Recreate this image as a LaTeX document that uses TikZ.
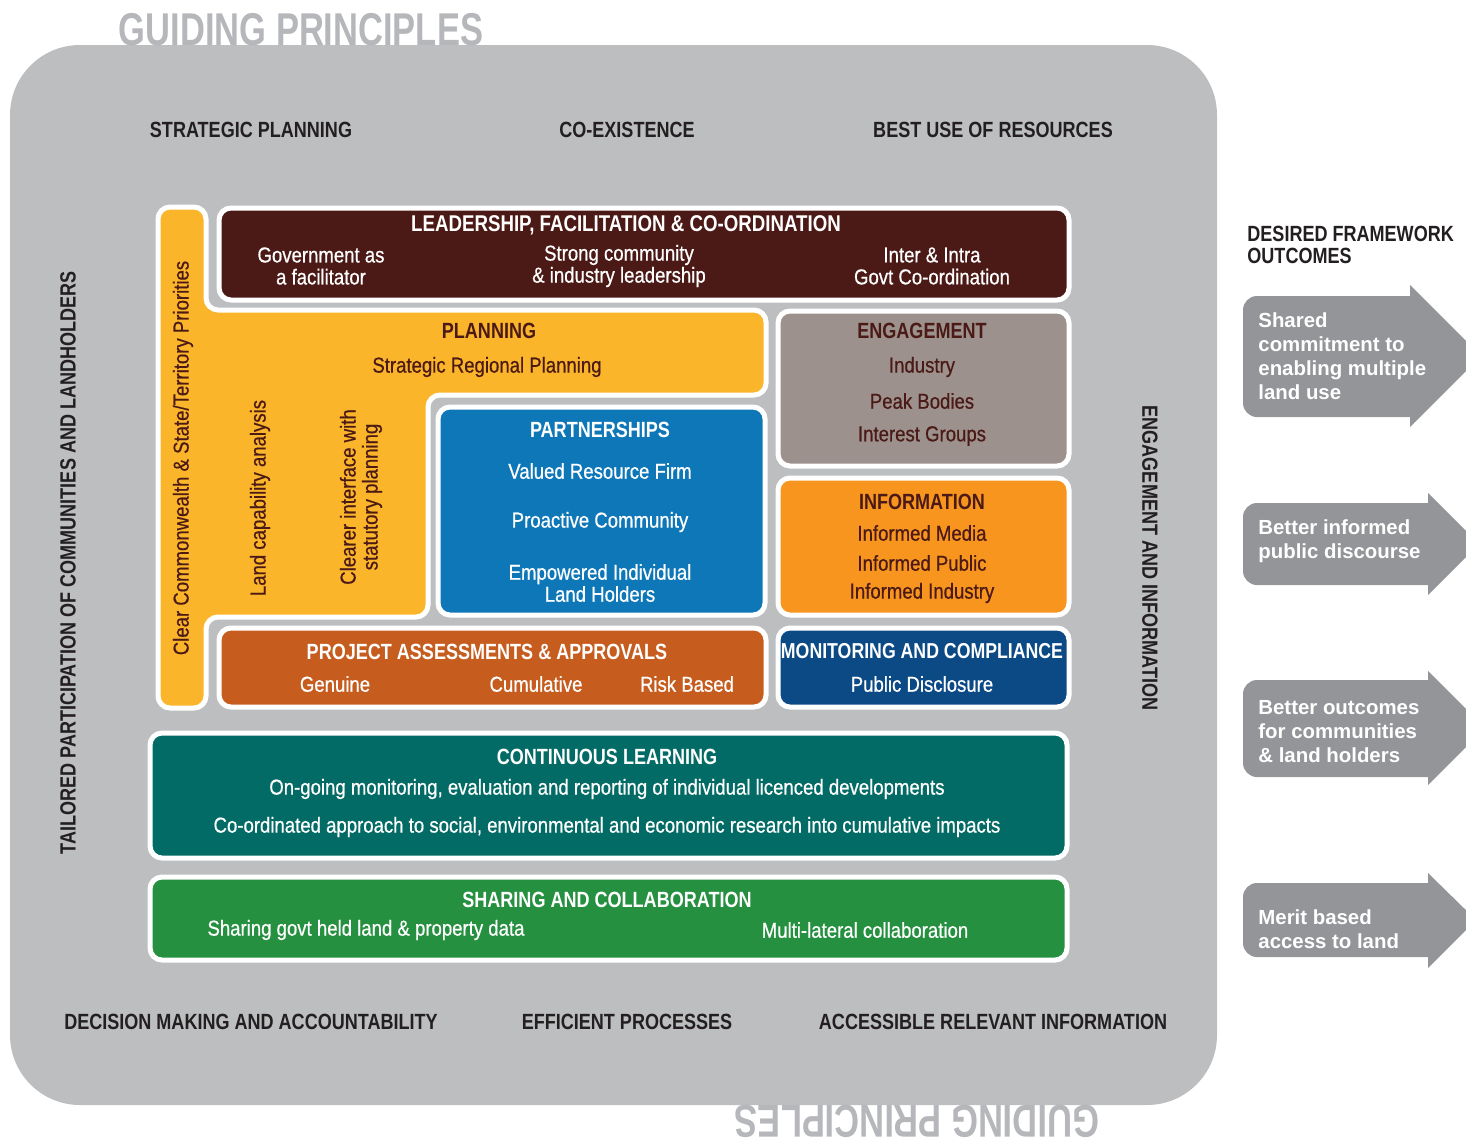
\documentclass[tikz,border=0pt]{standalone}
\usepackage{fontspec}
\setmainfont{Liberation Sans}
\newfontfamily\condf[FakeStretch=0.82]{Liberation Sans}
\newfontfamily\bodyf[FakeStretch=0.86,FakeBold=0.6]{Liberation Sans}
\newfontfamily\narrowf[FakeStretch=0.75]{Liberation Sans}

\definecolor{framegray}{HTML}{BCBEC0}
\definecolor{headgray}{HTML}{B5B7BA}
\definecolor{textdark}{HTML}{231F20}
\definecolor{maroon}{HTML}{4B1A16}
\definecolor{cyellow}{HTML}{FBB52A}
\definecolor{cblue}{HTML}{0E77B8}
\definecolor{cstone}{HTML}{9C918C}
\definecolor{corange}{HTML}{F7951F}
\definecolor{crust}{HTML}{C65D1F}
\definecolor{cnavy}{HTML}{0C4A86}
\definecolor{cteal}{HTML}{036B65}
\definecolor{cgreen}{HTML}{25903F}
\definecolor{arrowgray}{HTML}{939598}

\tikzset{
  box/.style={draw=white, line width=2.5pt, rounded corners=6pt},
  boxtitle/.style={font=\condf\bfseries\fontsize{11}{13}\selectfont, inner sep=0pt},
  boxtext/.style={font=\bodyf\fontsize{10.8}{11}\selectfont, align=center, inner sep=0pt},
  principle/.style={font=\condf\bfseries\fontsize{11}{13}\selectfont, text=textdark, inner sep=0pt},
  outcometext/.style={font=\bfseries\fontsize{10.2}{12}\selectfont, text=white, align=left, anchor=west, inner sep=0pt},
}

\begin{document}
\begin{tikzpicture}[x=0.5pt,y=-0.5pt]
  \useasboundingbox (0,0) rectangle (1466,1140);
  % frame of guiding principles
  \fill[framegray, rounded corners=35pt] (10,45) rectangle (1217,1105);
  \node[font=\narrowf\bfseries\fontsize{23}{25}\selectfont, text=headgray, anchor=base, inner sep=0pt] (gpTop) at (301,45) {GUIDING PRINCIPLES};
  \node[font=\narrowf\bfseries\fontsize{23}{25}\selectfont, text=headgray, anchor=base, rotate=180, inner sep=0pt] (gpBot) at (917,1105) {GUIDING PRINCIPLES};

  \node[principle] (pStrat) at (251,130) {STRATEGIC PLANNING};
  \node[principle] (pCoex) at (627,130) {CO-EXISTENCE};
  \node[principle] (pBest) at (993,130) {BEST USE OF RESOURCES};
  \node[principle] (pDecis) at (251,1022) {DECISION MAKING AND ACCOUNTABILITY};
  \node[principle] (pEffic) at (627,1022) {EFFICIENT PROCESSES};
  \node[principle] (pAcces) at (993,1022) {ACCESSIBLE RELEVANT INFORMATION};
  \node[principle, rotate=90] (pTail) at (68,563) {TAILORED PARTICIPATION OF COMMUNITIES AND LANDHOLDERS};
  \node[principle, rotate=-90] (pEngInf) at (1150,558) {ENGAGEMENT AND INFORMATION};

  % yellow planning shape
  \draw[box, fill=cyellow] (182,207) -- (206,207) -- (206,310) -- (766,310) -- (766,395)
    -- (428,395) -- (428,617) -- (206,617) -- (206,708) -- (158,708) -- (158,207) -- cycle;
  \node[boxtext, text=maroon, rotate=90] (prio) at (183,458) {Clear Commonwealth \& State/Territory Priorities};
  \node[boxtext, text=maroon, rotate=90] (landcap) at (260,498) {Land capability analysis};
  \node[boxtext, text=maroon, rotate=90] (interf) at (361,497) {Clearer interface with\\statutory planning};
  \node[boxtitle, text=maroon] (planT) at (489,331) {PLANNING};
  \node[boxtext, text=maroon] (planA) at (487,367) {Strategic Regional Planning};

  % leadership
  \draw[box, fill=maroon] (219,208) rectangle (1069,300);
  \node[boxtitle, text=white, font=\condf\bfseries\fontsize{11.4}{13}\selectfont] (leadT) at (626,225) {LEADERSHIP, FACILITATION \& CO-ORDINATION};
  \node[boxtext, text=white] (leadA) at (321,266) {Government as\\a facilitator};
  \node[boxtext, text=white] (leadB) at (619,266) {Strong community\\\& industry leadership};
  \node[boxtext, text=white] (leadC) at (932,266) {Inter \& Intra\\Govt Co-ordination};

  % engagement
  \draw[box, fill=cstone] (778,311) rectangle (1069,466);
  \node[boxtitle, text=maroon] (engT) at (922,331) {ENGAGEMENT};
  \node[boxtext, text=maroon] (engA) at (922,367) {Industry};
  \node[boxtext, text=maroon] (engB) at (922,401) {Peak Bodies};
  \node[boxtext, text=maroon] (engC) at (922,436) {Interest Groups};

  % partnerships
  \draw[box, fill=cblue] (438,407) rectangle (765,615);
  \node[boxtitle, text=white] (partT) at (600,430) {PARTNERSHIPS};
  \node[boxtext, text=white] (partA) at (600,471) {Valued Resource Firm};
  \node[boxtext, text=white] (partB) at (600,522) {Proactive Community};
  \node[boxtext, text=white] (partC) at (600,583) {Empowered Individual\\Land Holders};

  % information
  \draw[box, fill=corange] (778,478) rectangle (1069,615);
  \node[boxtitle, text=maroon] (infT) at (922,502) {INFORMATION};
  \node[boxtext, text=maroon] (infA) at (922,533) {Informed Media};
  \node[boxtext, text=maroon] (infB) at (922,563) {Informed Public};
  \node[boxtext, text=maroon] (infC) at (922,593) {Informed Industry};

  % project assessments
  \draw[box, fill=crust] (219,628) rectangle (766,707);
  \node[boxtitle, text=white] (projT) at (487,652) {PROJECT ASSESSMENTS \& APPROVALS};
  \node[boxtext, text=white] (projA) at (335,684) {Genuine};
  \node[boxtext, text=white] (projB) at (536,684) {Cumulative};
  \node[boxtext, text=white] (projC) at (687,684) {Risk Based};

  % monitoring
  \draw[box, fill=cnavy] (778,628) rectangle (1069,707);
  \node[boxtitle, text=white, font=\condf\bfseries\fontsize{10.8}{13}\selectfont] (monT) at (922,651) {MONITORING AND COMPLIANCE};
  \node[boxtext, text=white] (monA) at (922,684) {Public Disclosure};

  % continuous learning
  \draw[box, fill=cteal] (150,733) rectangle (1067,858);
  \node[boxtitle, text=white] (contT) at (607,757) {CONTINUOUS LEARNING};
  \node[boxtext, text=white] (contA) at (607,789) {On-going monitoring, evaluation and reporting of individual licenced developments};
  \node[boxtext, text=white] (contB) at (607,827) {Co-ordinated approach to social, environmental and economic research into cumulative impacts};

  % sharing
  \draw[box, fill=cgreen] (150,877) rectangle (1067,960);
  \node[boxtitle, text=white] (shareT) at (607,900) {SHARING AND COLLABORATION};
  \node[boxtext, text=white] (shareA) at (366,930) {Sharing govt held land \& property data};
  \node[boxtext, text=white] (shareB) at (865,930) {Multi-lateral collaboration};

  % desired outcomes
  \node[principle, align=left, anchor=north west, font=\condf\bfseries\fontsize{11}{11}\selectfont] (outT) at (1247,226) {DESIRED FRAMEWORK\\OUTCOMES};
  \begin{scope}
    \clip (0,0) rectangle (1466,1140);
    \fill[arrowgray] (1410,296) -- (1300,296) [rounded corners=7pt] -- (1243,296) -- (1243,417) -- (1300,417) [sharp corners] -- (1410,417) -- (1410,427) -- (1481,356) -- (1410,285) -- cycle;
    \fill[arrowgray] (1428,503) -- (1300,503) [rounded corners=7pt] -- (1243,503) -- (1243,585) -- (1300,585) [sharp corners] -- (1428,585) -- (1428,595) -- (1479,544) -- (1428,493) -- cycle;
    \fill[arrowgray] (1428,680) -- (1300,680) [rounded corners=7pt] -- (1243,680) -- (1243,777) -- (1300,777) [sharp corners] -- (1428,777) -- (1428,785) -- (1485,728) -- (1428,671) -- cycle;
    \fill[arrowgray] (1428,883) -- (1300,883) [rounded corners=7pt] -- (1243,883) -- (1243,957) -- (1300,957) [sharp corners] -- (1428,957) -- (1428,968) -- (1476,920) -- (1428,873) -- cycle;
  \end{scope}
  \node[outcometext] (outA) at (1258,356) {Shared\\commitment to\\enabling multiple\\land use};
  \node[outcometext] (outB) at (1258,541) {Better informed\\public discourse};
  \node[outcometext] (outC) at (1258,732) {Better outcomes\\for communities\\\& land holders};
  \node[outcometext] (outD) at (1258,929) {Merit based\\access to land};
\end{tikzpicture}
\end{document}
